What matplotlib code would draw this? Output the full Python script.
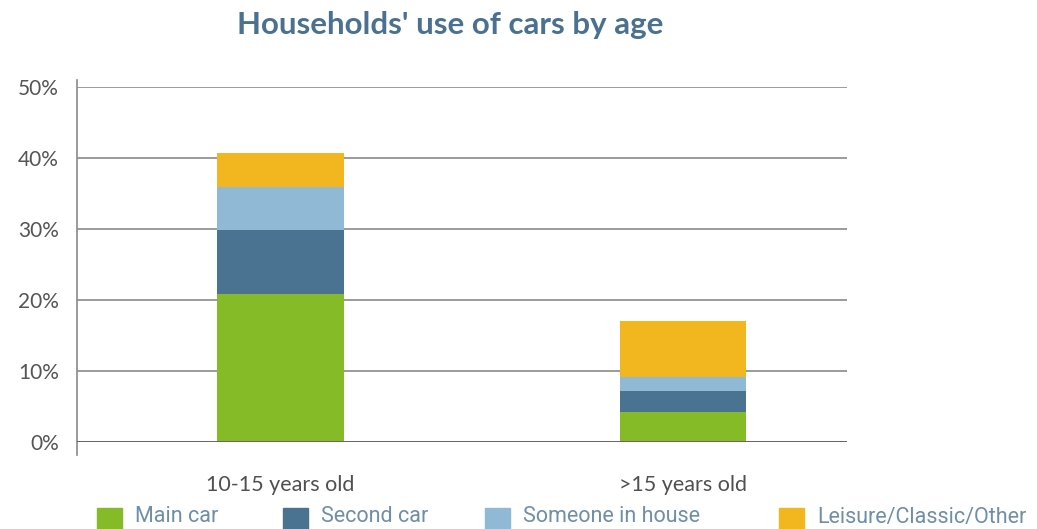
import matplotlib
matplotlib.use("Agg")
import matplotlib.pyplot as plt
from matplotlib.patches import Rectangle

# data (percent of households)
categories = ["10-15 years old", ">15 years old"]
series_names = ["Main car", "Second car", "Someone in house", "Leisure/Classic/Other"]
main_car = [20.8, 4.2]
second_car = [9.0, 3.0]
someone_in_house = [6.1, 1.9]
leisure_other = [4.8, 8.0]
colors = ["#84bb27", "#4a7391", "#8fb9d4", "#f2b61e"]
yticks = [0, 10, 20, 30, 40, 50]

plt.rcParams['font.family'] = ['Lato', 'DejaVu Sans']

fig = plt.figure(figsize=(10.37, 5.29), dpi=100)
ax = fig.add_axes([0.0743, 0.1645, 0.7425, 0.671])

x = list(range(len(categories)))
bottom = [0.0] * len(categories)
for vals, col in zip([main_car, second_car, someone_in_house, leisure_other], colors):
    ax.bar(x, vals, width=0.315, bottom=bottom, color=col, zorder=3)
    bottom = [b + v for b, v in zip(bottom, vals)]

ax.set_xlim(-0.504, 1.407)
ax.set_ylim(0, 50)
ax.set_yticks(yticks)
ax.set_yticklabels([f"{t}%" for t in yticks], fontsize=15, color="#555555")
ax.set_xticks(x)
ax.set_xticklabels(categories, fontsize=15.5, color="#505050")
ax.tick_params(axis='y', length=0, pad=13)
ax.tick_params(axis='x', length=0, pad=24)
ax.grid(axis='y', color="#8a8a8a", linewidth=1.2, zorder=1)
for s in ["top", "right", "bottom"]:
    ax.spines[s].set_visible(False)
ax.spines["left"].set_color("#8a8a8a")
ax.spines["left"].set_linewidth(1.2)
ax.spines["left"].set_bounds(-1.8, 51)
ax.axhline(0, color="#666666", linewidth=1.4, zorder=4)

fig.text(0.434, 0.952, "Households' use of cars by age", ha="center", va="center",
         fontsize=22.5, fontweight="bold", color="#4a7190")

# legend drawn along the bottom edge
leg_x = [97, 283, 485, 779]
for lx, name, col in zip(leg_x, series_names, colors):
    fig.add_artist(Rectangle((lx / 1037, 0), 25 / 1037, 21 / 529,
                             transform=fig.transFigure, color=col))
    fig.text((lx + 38) / 1037, 1 - 517 / 529, name, ha="left", va="center",
             fontsize=15.5, color="#6f8ea8", family=['Roboto', 'DejaVu Sans'])

fig.savefig("out.png", dpi=100)
